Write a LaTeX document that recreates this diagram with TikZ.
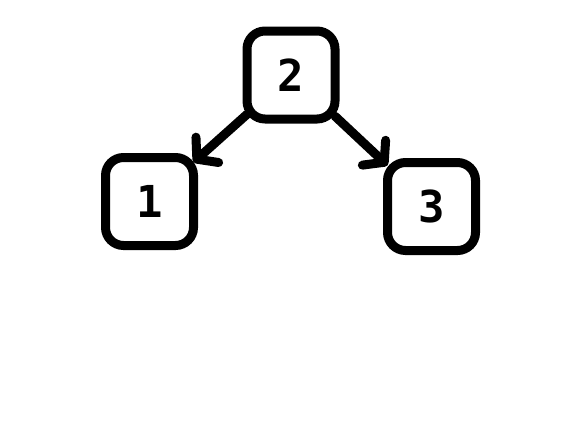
\documentclass[tikz,border=0pt]{standalone}
\usepackage{fontspec}
\setmonofont{DejaVu Sans Mono}
\usepackage{tikz}
\usetikzlibrary{arrows.meta, positioning}

\begin{document}
\begin{tikzpicture}[x=0.5pt, y=-0.5pt,
  numbox/.style={draw, line width=4.5pt, rounded corners=9pt, minimum width=44pt,
                 minimum height=44pt, inner sep=0pt, outer sep=0pt,
                 font=\fontsize{22}{22}\selectfont\ttfamily\bfseries},
  arrow/.style={-{Straight Barb[length=7pt, width=17pt, round]}, line width=4.5pt, line cap=round}
]
  \useasboundingbox (0,0) rectangle (583,428);
  \node[numbox] (N2) at (291,75) {2};
  \node[numbox] (N1) at (149.5,201.5) {1};
  \node[numbox] (N3) at (431.5,206.5) {3};

  \draw[arrow] (N2) -- (N1);
  \draw[arrow] (N2) -- (N3);
\end{tikzpicture}
\end{document}
